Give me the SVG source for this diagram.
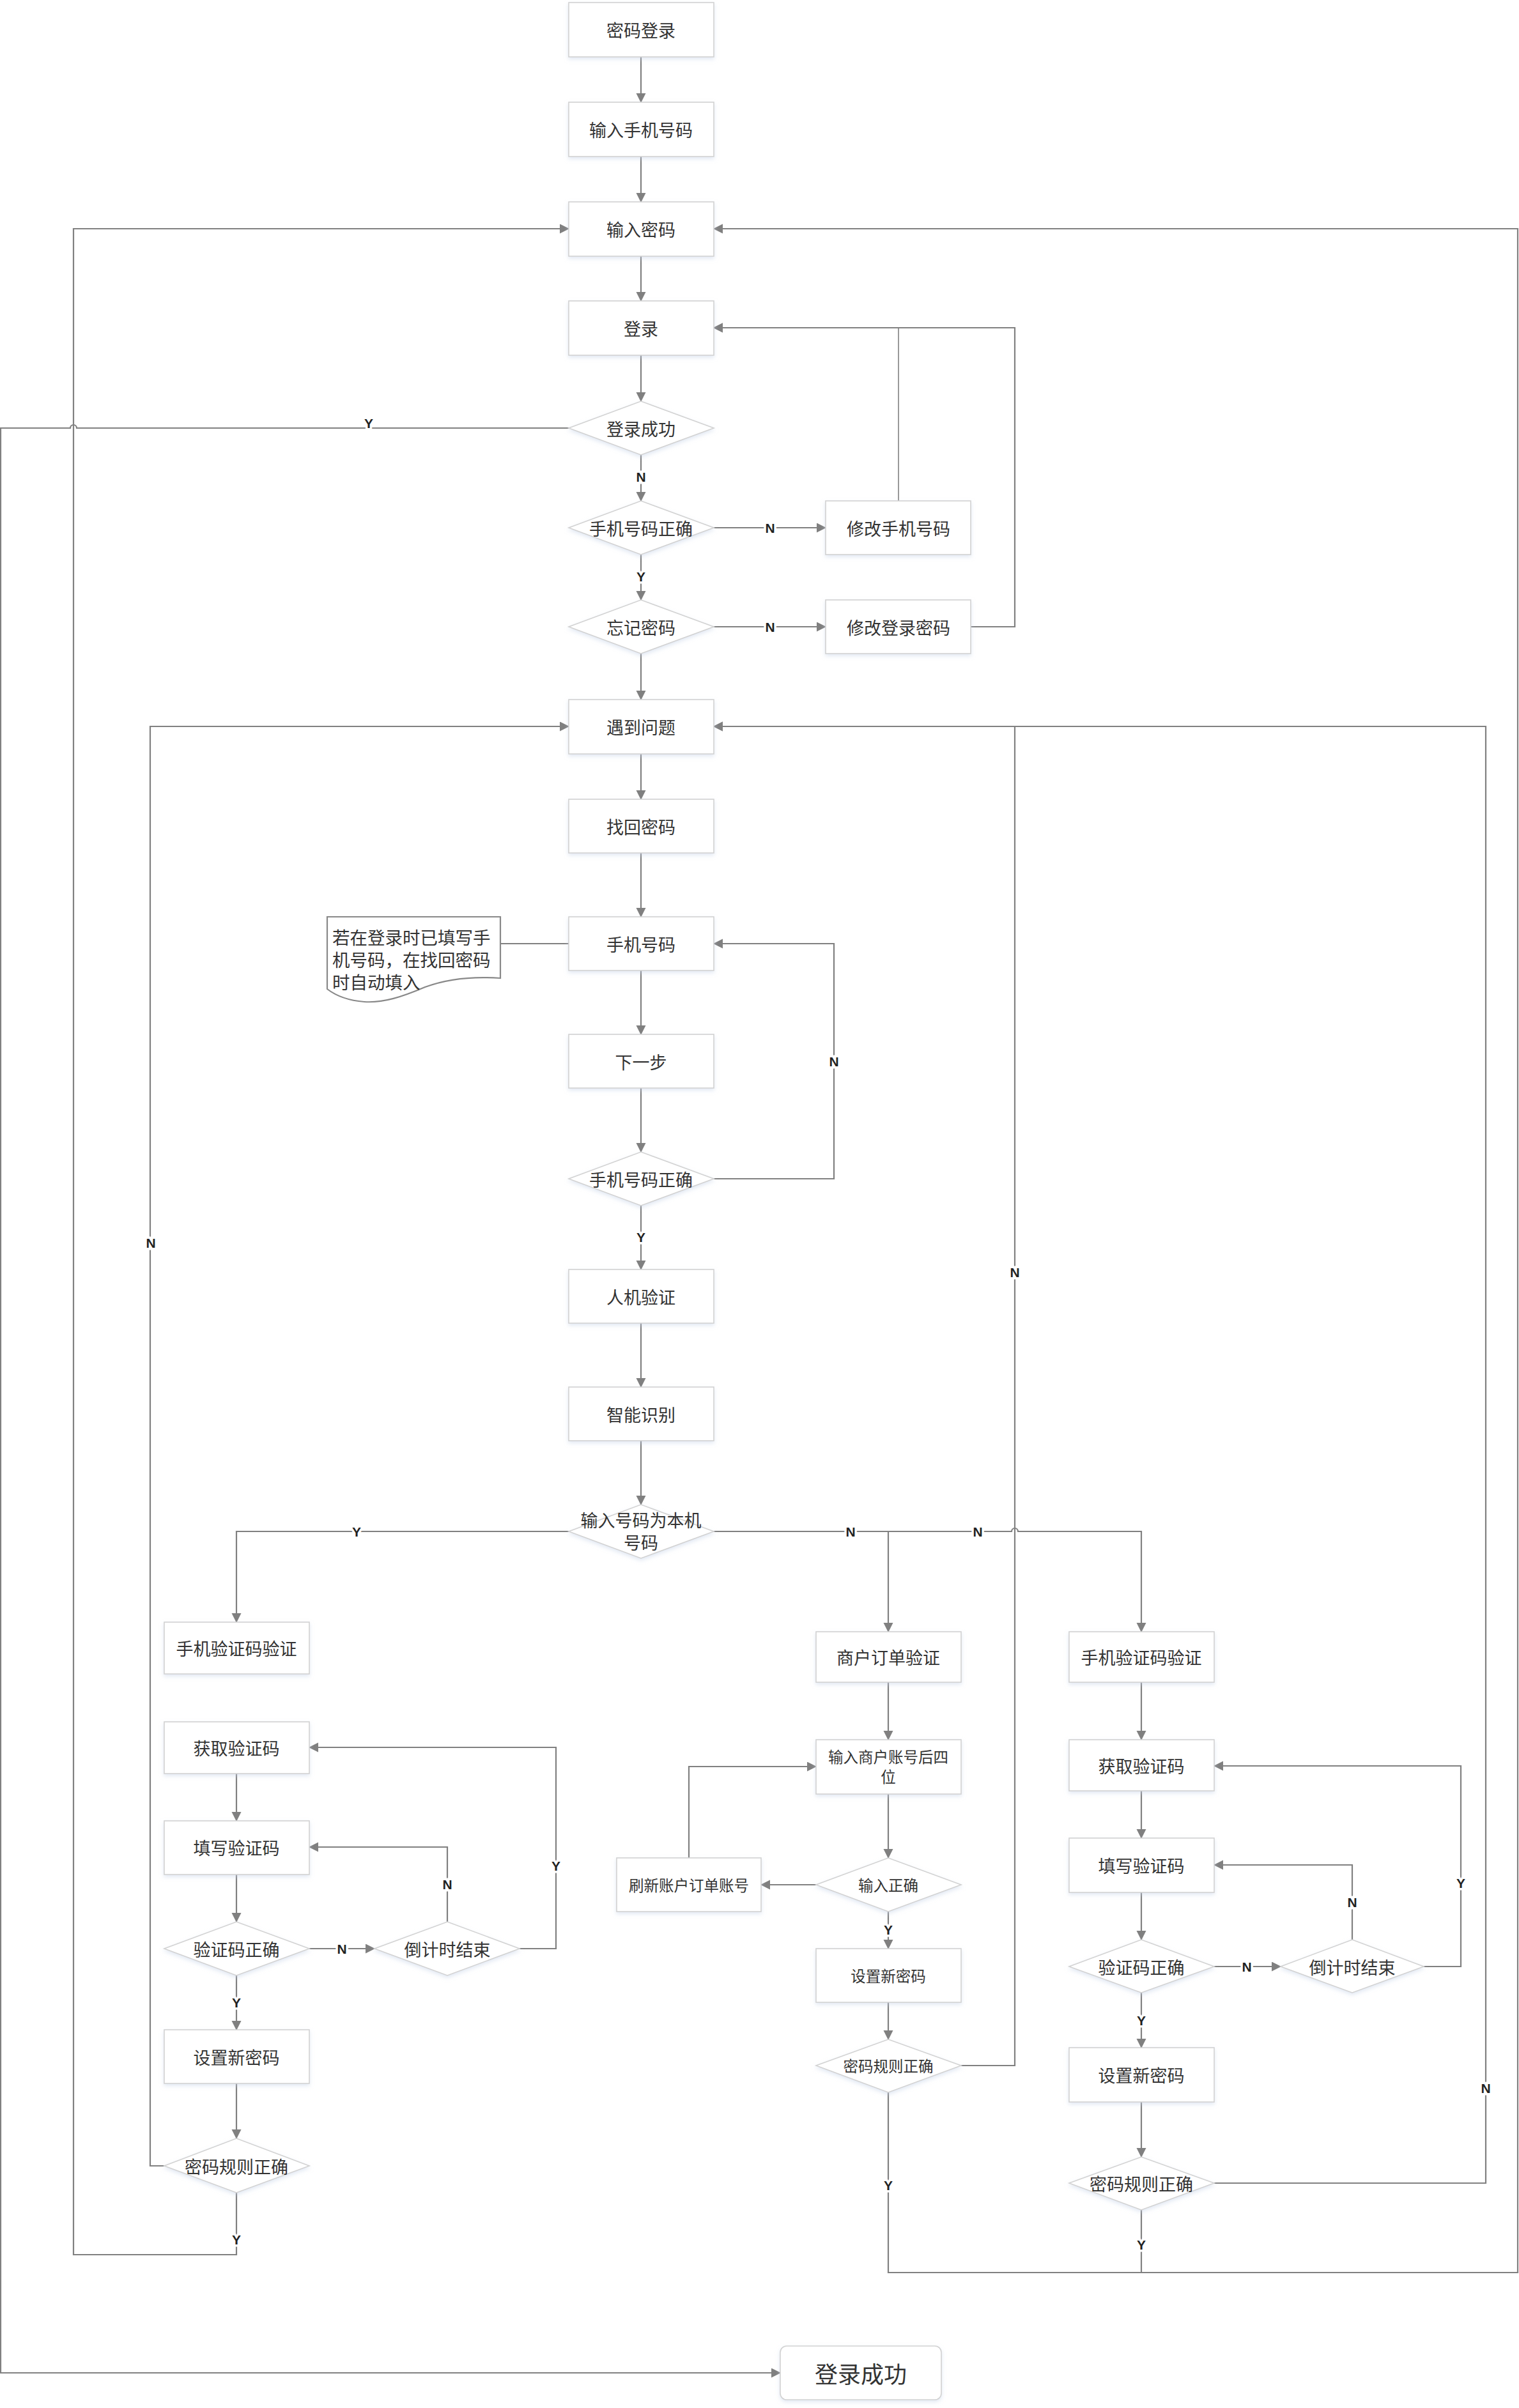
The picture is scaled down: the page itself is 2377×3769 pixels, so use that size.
<svg xmlns="http://www.w3.org/2000/svg" width="2377" height="3769" viewBox="0 0 2377 3769">
<style>
.n rect,.n polygon{fill:#fff;stroke:#d2d2d2;stroke-width:1.6;filter:url(#sh)}
.note path{fill:#fff;stroke:#888;stroke-width:2.2}
.t{font-family:"Noto Sans CJK SC","Noto Sans",sans-serif;font-size:27px;fill:#333;text-anchor:middle;dominant-baseline:central}
.s{font-size:23.5px}
.c{fill:none;stroke:#808080;stroke-width:2.2}
.a{marker-end:url(#ar)}
.lbl{font-family:"Liberation Sans",Arial,sans-serif;font-weight:bold;font-size:21px;fill:#222;stroke:#fff;stroke-width:7;paint-order:stroke;text-anchor:middle;dominant-baseline:central}
</style>
<defs>
<marker id="ar" markerUnits="userSpaceOnUse" markerWidth="16" markerHeight="16" refX="14" refY="7.5" orient="auto">
<path d="M0,0 L15,7.5 L0,15 z" fill="#808080"/>
</marker>
<filter id="sh" x="-10%" y="-10%" width="120%" height="130%">
<feDropShadow dx="0" dy="3" stdDeviation="3" flood-color="#c5d2e8" flood-opacity="0.5"/>
</filter>
</defs>
<rect width="2377" height="3769" fill="#fff"/>

<g id="connectors">
<path class="c a" d="M1003,89 V160"/>
<path class="c a" d="M1003,245 V316"/>
<path class="c a" d="M1003,401 V471"/>
<path class="c a" d="M1003,556 V628"/>
<path class="c a" d="M1003,712 V784"/>
<path class="c a" d="M1003,868 V939"/>
<path class="c a" d="M1003,1023 V1095"/>
<path class="c a" d="M890,670 H120 A5,5 0 0 0 110,670 H1 V3714 H1221"/>
<path class="c a" d="M1117,826 H1292"/>
<path class="c a" d="M1117,981 H1292"/>
<path class="c a" d="M1406,784 V513 H1117" style="stroke-width:1.6"/>
<path class="c a" d="M1519,981 H1588 V513 H1117"/>
<path class="c a" d="M1003,1180 V1251"/>
<path class="c a" d="M1003,1335 V1435"/>
<path class="c a" d="M1003,1519 V1619"/>
<path class="c a" d="M1003,1703 V1803"/>
<path class="c" d="M783,1477 H890" style="stroke-width:1.8"/>
<path class="c a" d="M1117,1845 H1305 V1477 H1117"/>
<path class="c a" d="M1003,1887 V1987"/>
<path class="c a" d="M1003,2071 V2171"/>
<path class="c a" d="M1003,2255 V2355"/>
<path class="c a" d="M890,2397 H370 V2539"/>
<path class="c a" d="M1117,2397 H1390 V2554"/>
<path class="c a" d="M1390,2397 H1583 A5,5 0 0 1 1593,2397 H1786 V2554"/>
<path class="c a" d="M370,2776 V2850"/>
<path class="c a" d="M370,2934 V3008"/>
<path class="c a" d="M484,3050 H586"/>
<path class="c a" d="M700,3008 V2891 H484"/>
<path class="c a" d="M813,3050 H870 V2735 H484"/>
<path class="c a" d="M370,3092 V3177"/>
<path class="c a" d="M370,3261 V3347"/>
<path class="c a" d="M257,3390 H235 V1137 H890"/>
<path class="c a" d="M370,3432 V3529 H115 V358 H890"/>
<path class="c a" d="M1390,2633 V2723"/>
<path class="c a" d="M1390,2808 V2908"/>
<path class="c a" d="M1277,2950 H1191"/>
<path class="c a" d="M1078,2908 V2765 H1277"/>
<path class="c a" d="M1390,2992 V3050"/>
<path class="c a" d="M1390,3134 V3192"/>
<path class="c a" d="M1504,3233 H1588 V1137 H1117"/>
<path class="c a" d="M1390,3275 V3557 H2375 V358 H1117"/>
<path class="c a" d="M1786,2633 V2723"/>
<path class="c a" d="M1786,2803 V2877"/>
<path class="c a" d="M1786,2962 V3036"/>
<path class="c a" d="M1900,3078 H2004"/>
<path class="c a" d="M2116,3036 V2919 H1900"/>
<path class="c a" d="M2228,3078 H2286 V2764 H1900"/>
<path class="c a" d="M1786,3119 V3205"/>
<path class="c a" d="M1786,3290 V3376"/>
<path class="c a" d="M1900,3417 H2325 V1137 H1117"/>
<path class="c" d="M1786,3459 V3557"/>
<text class="lbl" x="577" y="662">Y</text>
<text class="lbl" x="1003" y="746">N</text>
<text class="lbl" x="1003" y="902">Y</text>
<text class="lbl" x="1205" y="826">N</text>
<text class="lbl" x="1205" y="981">N</text>
<text class="lbl" x="1305" y="1661">N</text>
<text class="lbl" x="1003" y="1936">Y</text>
<text class="lbl" x="236" y="1945">N</text>
<text class="lbl" x="1588" y="1991">N</text>
<text class="lbl" x="558" y="2397">Y</text>
<text class="lbl" x="1331" y="2397">N</text>
<text class="lbl" x="1530" y="2397">N</text>
<text class="lbl" x="535" y="3050">N</text>
<text class="lbl" x="700" y="2949">N</text>
<text class="lbl" x="870" y="2920">Y</text>
<text class="lbl" x="370" y="3134">Y</text>
<text class="lbl" x="370" y="3505">Y</text>
<text class="lbl" x="1390" y="3020">Y</text>
<text class="lbl" x="1390" y="3420">Y</text>
<text class="lbl" x="1951" y="3078">N</text>
<text class="lbl" x="2116" y="2977">N</text>
<text class="lbl" x="2286" y="2947">Y</text>
<text class="lbl" x="1786" y="3162">Y</text>
<text class="lbl" x="2325" y="3268">N</text>
<text class="lbl" x="1786" y="3513">Y</text>
</g>

<g id="n1" class="n"><rect x="890" y="4" width="227" height="85"/><text class="t" x="1003" y="46">密码登录</text></g>
<g id="n2" class="n"><rect x="890" y="160" width="227" height="85"/><text class="t" x="1003" y="202">输入手机号码</text></g>
<g id="n3" class="n"><rect x="890" y="316" width="227" height="85"/><text class="t" x="1003" y="358">输入密码</text></g>
<g id="n4" class="n"><rect x="890" y="471" width="227" height="85"/><text class="t" x="1003" y="513">登录</text></g>
<g id="n5" class="n"><polygon points="890,670 1003,628 1117,670 1003,712"/><text class="t" x="1003" y="670">登录成功</text></g>
<g id="n6" class="n"><polygon points="890,826 1003,784 1117,826 1003,868"/><text class="t" x="1003" y="826">手机号码正确</text></g>
<g id="n7" class="n"><polygon points="890,981 1003,939 1117,981 1003,1023"/><text class="t" x="1003" y="981">忘记密码</text></g>
<g id="n8" class="n"><rect x="1292" y="784" width="227" height="84"/><text class="t" x="1406" y="826">修改手机号码</text></g>
<g id="n9" class="n"><rect x="1292" y="939" width="227" height="84"/><text class="t" x="1406" y="981">修改登录密码</text></g>
<g id="n10" class="n"><rect x="890" y="1095" width="227" height="85"/><text class="t" x="1003" y="1137">遇到问题</text></g>
<g id="n11" class="n"><rect x="890" y="1251" width="227" height="84"/><text class="t" x="1003" y="1293">找回密码</text></g>
<g id="n12" class="n"><rect x="890" y="1435" width="227" height="84"/><text class="t" x="1003" y="1477">手机号码</text></g>
<g id="note" class="note"><path d="M512,1435 H783 V1531 C740,1528 700,1532 665,1545 C630,1560 600,1570 570,1568 C545,1566 525,1558 512,1548 Z"/>
<text class="t" x="520" y="1466" style="text-anchor:start;font-size:27.5px">若在登录时已填写手</text>
<text class="t" x="520" y="1501" style="text-anchor:start;font-size:27.5px">机号码，在找回密码</text>
<text class="t" x="520" y="1536" style="text-anchor:start;font-size:27.5px">时自动填入</text></g>
<g id="n13" class="n"><rect x="890" y="1619" width="227" height="84"/><text class="t" x="1003" y="1661">下一步</text></g>
<g id="n14" class="n"><polygon points="890,1845 1003,1803 1117,1845 1003,1887"/><text class="t" x="1003" y="1845">手机号码正确</text></g>
<g id="n15" class="n"><rect x="890" y="1987" width="227" height="84"/><text class="t" x="1003" y="2029">人机验证</text></g>
<g id="n16" class="n"><rect x="890" y="2171" width="227" height="84"/><text class="t" x="1003" y="2213">智能识别</text></g>
<g id="n17" class="n"><polygon points="890,2397 1003,2355 1117,2397 1003,2439"/><text class="t" x="1003" y="2378">输入号码为本机</text><text class="t" x="1003" y="2413">号码</text></g>

<g id="L1" class="n"><rect x="257" y="2539" width="227" height="81"/><text class="t" x="370" y="2579">手机验证码验证</text></g>
<g id="L2" class="n"><rect x="257" y="2695" width="227" height="81"/><text class="t" x="370" y="2735">获取验证码</text></g>
<g id="L3" class="n"><rect x="257" y="2850" width="227" height="84"/><text class="t" x="370" y="2891">填写验证码</text></g>
<g id="L4" class="n"><polygon points="257,3050 370,3008 484,3050 370,3092"/><text class="t" x="370" y="3050">验证码正确</text></g>
<g id="L5" class="n"><polygon points="586,3050 700,3008 813,3050 700,3092"/><text class="t" x="700" y="3050">倒计时结束</text></g>
<g id="L6" class="n"><rect x="257" y="3177" width="227" height="84"/><text class="t" x="370" y="3219">设置新密码</text></g>
<g id="L7" class="n"><polygon points="257,3390 370,3347 484,3390 370,3432"/><text class="t" x="370" y="3390">密码规则正确</text></g>

<g id="M1" class="n"><rect x="1277" y="2554" width="227" height="79"/><text class="t" x="1390" y="2593">商户订单验证</text></g>
<g id="M2" class="n"><rect x="1277" y="2723" width="227" height="85"/><text class="t s" x="1390" y="2749">输入商户账号后四</text><text class="t s" x="1390" y="2780">位</text></g>
<g id="M3" class="n"><polygon points="1277,2950 1390,2908 1504,2950 1390,2992"/><text class="t s" x="1390" y="2950">输入正确</text></g>
<g id="M4" class="n"><rect x="965" y="2908" width="226" height="84"/><text class="t s" x="1078" y="2950">刷新账户订单账号</text></g>
<g id="M5" class="n"><rect x="1277" y="3050" width="227" height="84"/><text class="t s" x="1390" y="3092">设置新密码</text></g>
<g id="M6" class="n"><polygon points="1277,3233 1390,3192 1504,3233 1390,3275"/><text class="t s" x="1390" y="3233">密码规则正确</text></g>

<g id="R1" class="n"><rect x="1673" y="2554" width="227" height="79"/><text class="t" x="1786" y="2593">手机验证码验证</text></g>
<g id="R2" class="n"><rect x="1673" y="2723" width="227" height="80"/><text class="t" x="1786" y="2763">获取验证码</text></g>
<g id="R3" class="n"><rect x="1673" y="2877" width="227" height="85"/><text class="t" x="1786" y="2919">填写验证码</text></g>
<g id="R4" class="n"><polygon points="1673,3078 1786,3036 1900,3078 1786,3119"/><text class="t" x="1786" y="3078">验证码正确</text></g>
<g id="R5" class="n"><polygon points="2004,3078 2116,3036 2228,3078 2116,3119"/><text class="t" x="2116" y="3078">倒计时结束</text></g>
<g id="R6" class="n"><rect x="1673" y="3205" width="227" height="85"/><text class="t" x="1786" y="3247">设置新密码</text></g>
<g id="R7" class="n"><polygon points="1673,3417 1786,3376 1900,3417 1786,3459"/><text class="t" x="1786" y="3417">密码规则正确</text></g>

<g id="end" class="n"><rect x="1221" y="3672" width="252" height="84" rx="10"/><text class="t" x="1347" y="3714" style="font-size:36px">登录成功</text></g>
</svg>
